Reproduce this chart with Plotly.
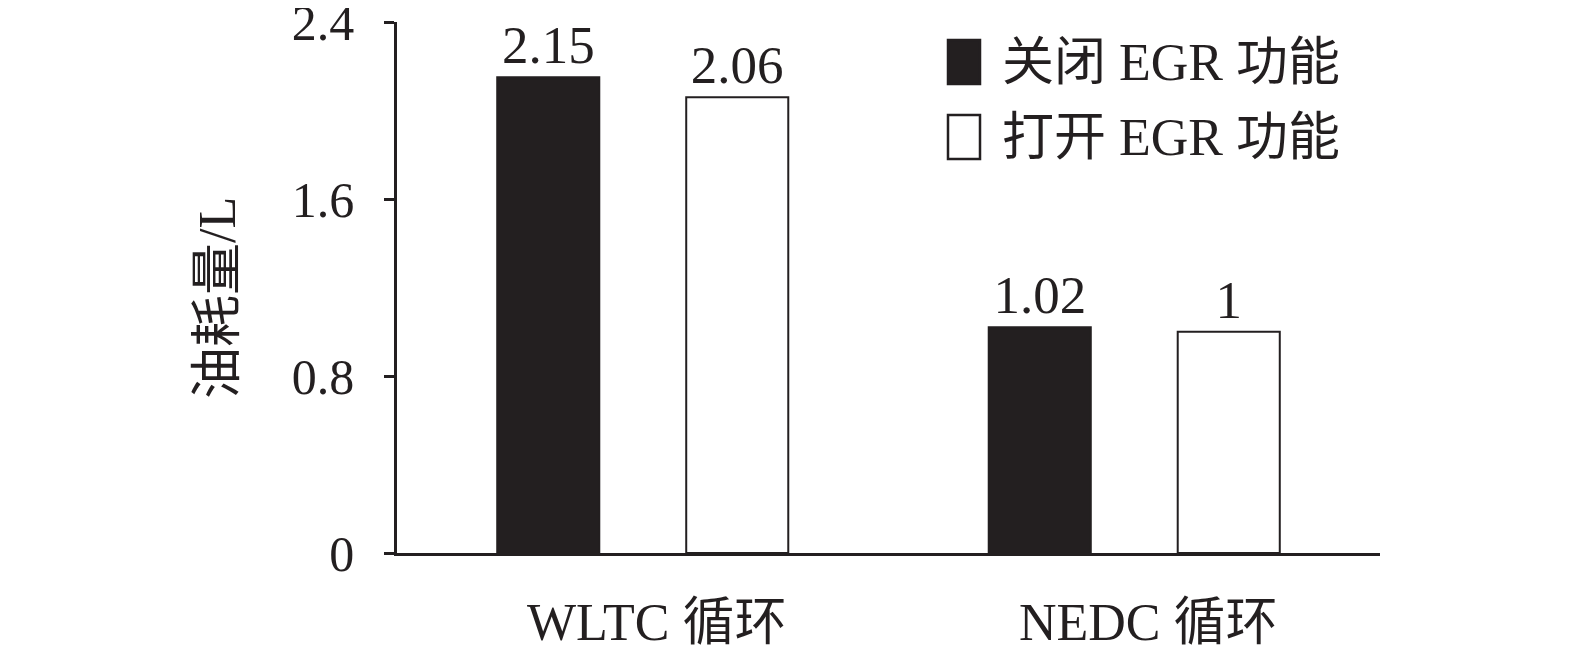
import plotly.graph_objects as go

categories = ["WLTC 循环", "NEDC 循环"]
series_names = ["关闭 EGR 功能", "打开 EGR 功能"]
egr_off = [2.15, 1.02]
egr_on = [2.06, 1]
y_ticks = [0, 0.8, 1.6, 2.4]
y_tick_labels = ["0", "0.8", "1.6", "2.4"]
y_title = "油耗量/L"

INK = "#231f20"
FONT = "Liberation Serif, Times New Roman, Noto Sans CJK SC, serif"

# page body has an 8px default margin; compensate so the plot lands where the reference has it
OFF = 8
W, H = 1575 - OFF, 657 - OFF
ML, MR, MT, MB = 397 - OFF, 195, 22 - OFF, 104
PW, PH = W - ML - MR, H - MT - MB
PLOT_LEFT, PLOT_BOTTOM = ML + OFF, MT + OFF + PH

def px_to_paper(px, py):
    return (px - PLOT_LEFT) / PW, (PLOT_BOTTOM - py) / PH

fig = go.Figure()
fig.add_trace(go.Bar(
    x=categories, y=egr_off, name=series_names[0],
    marker=dict(color=INK, line=dict(color=INK, width=2)),
    text=[f"{v:g}" for v in egr_off], textposition="outside",
    textfont=dict(size=53, color=INK, family=FONT), cliponaxis=False,
    showlegend=False,
))
fig.add_trace(go.Bar(
    x=categories, y=egr_on, name=series_names[1],
    marker=dict(color="white", line=dict(color=INK, width=2)),
    text=[f"{v:g}" for v in egr_on], textposition="outside",
    textfont=dict(size=53, color=INK, family=FONT), cliponaxis=False,
    showlegend=False,
))

# legend drawn manually (large swatches as in the reference)
legend_rows = [(62, INK), (137, "white")]
for (cy, fill), name in zip(legend_rows, series_names):
    x0, y0 = px_to_paper(948, cy + 22)
    x1, y1 = px_to_paper(980, cy - 22)
    fig.add_shape(type="rect", xref="paper", yref="paper", x0=x0, x1=x1, y0=y0, y1=y1,
                  fillcolor=fill, line=dict(color=INK, width=2.5))
    tx, ty = px_to_paper(1000, cy)
    fig.add_annotation(xref="paper", yref="paper", x=tx, y=ty, text=name, showarrow=False,
                       xanchor="left", yanchor="middle",
                       font=dict(size=52, color=INK, family=FONT))

# y-axis title
tx, ty = px_to_paper(217, 298)
fig.add_annotation(xref="paper", yref="paper", x=tx, y=ty, text=y_title, showarrow=False,
                   textangle=-90, xanchor="center", yanchor="middle",
                   font=dict(size=52, color=INK, family=FONT))

fig.update_layout(
    width=W, height=H,
    margin=dict(l=ML, r=MR, t=MT, b=MB, autoexpand=False),
    paper_bgcolor="white", plot_bgcolor="white",
    barmode="group", bargap=0.231, bargroupgap=0.46,
    font=dict(family=FONT, color=INK, size=50),
    showlegend=False,
)
fig.update_xaxes(
    showline=True, linecolor=INK, linewidth=2.5, ticks="", showgrid=False, automargin=False,
    tickfont=dict(size=52, family=FONT, color=INK), ticklabelstandoff=22, ticklabelshift=14,
)
fig.update_yaxes(
    range=[0, 2.4], tickvals=y_ticks, ticktext=y_tick_labels, automargin=False,
    ticklabeloverflow="allow",
    showline=True, linecolor=INK, linewidth=2.5, ticks="outside", ticklen=10,
    tickwidth=2.5, tickcolor=INK, showgrid=False, zeroline=False,
    tickfont=dict(size=50, family=FONT, color=INK), ticklabelstandoff=20,
)

fig.write_html("out.html")
